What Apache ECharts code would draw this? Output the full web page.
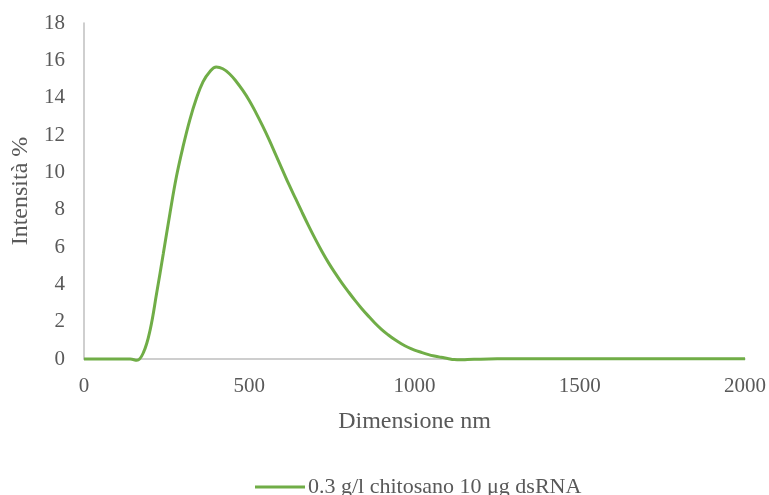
<!DOCTYPE html>
<html>
<head>
<meta charset="utf-8">
<script src="https://cdn.jsdelivr.net/npm/echarts@6/dist/echarts.min.js"></script>
<style>html,body{margin:0;padding:0;background:#fff}#c{width:769px;height:495px}</style>
</head>
<body>
<div id="c"></div>
<script>
var seriesName = '0.3 g/l chitosano 10 μg dsRNA';
var sizes = [0,50,100,140,160,180,200,220,240,260,280,300,320,340,360,380,400,420,440,460,480,500,520,540,560,580,600,620,640,660,680,700,720,740,760,780,800,820,840,860,880,900,920,940,960,980,1000,1020,1040,1060,1080,1100,1120,1140,1160,1200,1250,1300,1500,1750,2000];
var intensity = [0,0,0,0,-0.07,0.35,1.55,3.55,5.65,7.8,9.8,11.4,12.8,13.95,14.85,15.38,15.64,15.55,15.28,14.88,14.4,13.85,13.2,12.5,11.75,10.95,10.15,9.35,8.6,7.85,7.12,6.42,5.76,5.15,4.6,4.08,3.6,3.14,2.71,2.31,1.93,1.59,1.3,1.04,0.82,0.63,0.48,0.36,0.25,0.16,0.09,0.03,-0.03,-0.04,-0.03,-0.01,0.01,0.02,0.02,0.02,0.02];
var xTicks = [0,500,1000,1500,2000];
var yTicks = [0,2,4,6,8,10,12,14,16,18];

var data = sizes.map(function(s,i){return [s,intensity[i]];});
var font = 'Liberation Serif';
var chart = echarts.init(document.getElementById('c'));
chart.setOption({
  animation:false,
  backgroundColor:'#ffffff',
  grid:{left:84,right:21,top:23,bottom:136,containLabel:false},
  legend:{
    left:255, top:476, padding:0,
    icon:'rect', itemWidth:50, itemHeight:3, itemGap:10,
    textStyle:{fontFamily:font,fontSize:22,color:'#595959',padding:[0,0,0,-2]},
    data:[seriesName]
  },
  xAxis:{
    type:'value', min:xTicks[0], max:xTicks[xTicks.length-1], interval:500,
    name:'Dimensione nm', nameLocation:'middle', nameGap:51,
    nameTextStyle:{fontFamily:font,fontSize:24,color:'#595959',verticalAlign:'top'},
    axisLine:{show:true,lineStyle:{color:'#BFBFBF',width:1.5}},
    axisTick:{show:false},
    splitLine:{show:false},
    axisLabel:{fontFamily:font,fontSize:21,color:'#595959',margin:17,
      formatter:function(v){return String(v);}}
  },
  yAxis:{
    type:'value', min:yTicks[0], max:yTicks[yTicks.length-1], interval:2,
    name:'Intensità %', nameLocation:'middle', nameGap:48, nameRotate:90,
    nameTextStyle:{fontFamily:font,fontSize:24,color:'#595959'},
    axisLine:{show:true,lineStyle:{color:'#BFBFBF',width:1.5}},
    axisTick:{show:false},
    splitLine:{show:false},
    axisLabel:{fontFamily:font,fontSize:21,color:'#595959',margin:19}
  },
  series:[{
    name:seriesName,
    type:'line',
    data:data,
    smooth:0.4,
    showSymbol:false,
    clip:false,
    lineStyle:{color:'#70AD47',width:3},
    itemStyle:{color:'#70AD47'}
  }]
});
</script>
</body>
</html>
